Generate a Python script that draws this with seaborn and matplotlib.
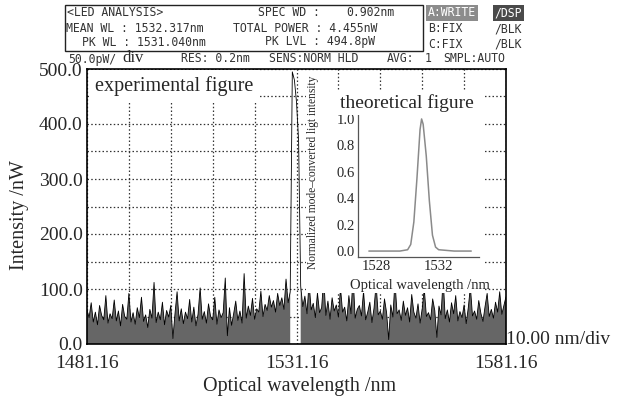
import numpy as np
import pandas as pd
import matplotlib
matplotlib.use("Agg")
import matplotlib.pyplot as plt
from matplotlib.patches import Rectangle
import seaborn as sns

# OSA trace: 201 samples, 0.5 nm apart, starting at 1481.16 nm
start_wl = 1481.16
step_wl = 0.5
intensity = [
    62, 48, 75, 40, 58, 35, 70, 52, 44, 88,
    38, 55, 46, 80, 42, 60, 33, 72, 50, 45,
    92, 40, 57, 36, 66, 48, 85, 41, 53, 30,
    63, 47, 112, 39, 58, 44, 76, 35, 61, 49,
    70, 10, 55, 95, 42, 64, 37, 58, 46, 81,
    40, 67, 33, 54, 102, 45, 59, 38, 73, 50,
    44, 85, 36, 62, 48, 57, 120, 15, 66, 34,
    55, 78, 43, 60, 38, 128, 47, 69, 52, 83,
    45, 64, 58, 96, 50, 72, 61, 88, 67, 79,
    58, 92, 70, 84, 63, 118, 75, 95, 494.8, 480,
    440, 370, 105, 68, 87, 55, 112, 62, 74, 48,
    93, 57, 66, 120, 52, 78, 45, 84, 60, 71,
    49, 102, 58, 67, 42, 88, 55, 125, 47, 63,
    70, 51, 96, 44, 58, 76, 39, 65, 109, 53,
    60, 45, 82, 57, 8, 71, 49, 115, 55, 62,
    43, 78, 52, 66, 40, 90, 58, 47, 73, 38,
    64, 100, 50, 57, 44, 82, 61, 12, 69, 53,
    119, 46, 62, 40, 75, 55, 88, 42, 59, 48,
    71, 37, 66, 104, 51, 60, 45, 79, 56, 41,
    68, 92, 50, 63, 47, 76, 58, 95, 54, 70, 86,
]
wavelength = np.round(start_wl + step_wl * np.arange(len(intensity)), 2)

# theoretical curve (inset)
theo_wl = [1527.5, 1528.5, 1529.5, 1530.0, 1530.2, 1530.4, 1530.6, 1530.8, 1530.9,
           1531.0, 1531.2, 1531.4, 1531.6, 1531.8, 1532.0, 1533.0, 1534.1]
theo_int = [0.0, 0.0, 0.0, 0.01, 0.05, 0.22, 0.55, 0.92, 1.0,
            0.96, 0.72, 0.38, 0.12, 0.03, 0.01, 0.0, 0.0]

x_labels = ["1481.16", "1531.16", "1581.16"]
y_labels = ["0.0", "100.0", "200.0", "300.0", "400.0", "500.0"]

df = pd.DataFrame({"wl": wavelength, "p": intensity})
theo = pd.DataFrame({"wl": theo_wl, "p": theo_int})

sns.set_style("white")
serif = ["Liberation Serif", "DejaVu Serif"]
mono = ["DejaVu Sans Mono"]
plt.rcParams["font.family"] = serif

W, H = 620, 400
fig = plt.figure(figsize=(6.2, 4.0), dpi=100)


def fx(x):
    return x / W


def fy(y):
    return 1 - y / H


# ---- main spectrum ----
ax = fig.add_axes([fx(87), fy(344), (506 - 87) / W, (344 - 69) / H])
ax.set_axisbelow(True)
noise = df["p"] < 200
ax.fill_between(df["wl"], df["p"], where=noise, color="#666666", lw=0, interpolate=False)
sns.lineplot(data=df, x="wl", y="p", ax=ax, color="black", lw=0.6)
ax.set_xlim(wavelength[0], wavelength[-1])
ax.set_ylim(0, 500)
xt = np.round(np.linspace(wavelength[0], wavelength[-1], 11), 2)
ax.set_xticks(xt, [x_labels[0]] + [""] * 4 + [x_labels[1]] + [""] * 4 + [x_labels[2]])
yt = np.arange(0, 501, 50)
ax.set_yticks(yt, [y_labels[i // 2] if i % 2 == 0 else "" for i in range(11)])
ax.grid(True, ls=(0, (1.2, 1.8)), color="#333333", lw=0.9)
ax.tick_params(length=0, labelsize=14)
ax.tick_params(axis="y", pad=3)
ax.tick_params(axis="x", pad=8)
ax.set_xlabel("")
ax.set_ylabel("")
for s in ax.spines.values():
    s.set_color("black")
    s.set_linewidth(1.2)

fig.text(fx(20), fy(215), "Intensity /nW", rotation=90, ha="center", va="center", fontsize=14.5)
fig.text(fx(300), fy(387), "Optical wavelength /nm", ha="center", va="center", fontsize=14.5)
fig.text(fx(506), fy(340), "10.00 nm/div", ha="left", va="center", fontsize=14)

fig.text(fx(95), fy(86), "experimental figure", ha="left", va="center", fontsize=14.5,
         bbox=dict(fc="white", ec="none", pad=4), zorder=3)

# ---- inset ----
fig.patches.append(Rectangle((fx(306), fy(293)), (484 - 306) / W, (293 - 90) / H,
                             transform=fig.transFigure, fc="white", ec="none", zorder=1))
fig.text(fx(340), fy(103), "theoretical figure", ha="left", va="center", fontsize=14,
         bbox=dict(fc="white", ec="none", pad=2), zorder=3)
ins = fig.add_axes([fx(358), fy(257), (479 - 358) / W, (257 - 113) / H])
ins.set_zorder(2)
sns.lineplot(data=theo, x="wl", y="p", ax=ins, color="#8a8a8a", lw=1.1)
ins.set_xlim(1526.8, 1534.6)
ins.set_ylim(-0.045, 1.045)
ins.set_xticks([1528, 1530, 1532, 1534], ["1528", "", "1532", ""])
ins.set_yticks([0, 0.2, 0.4, 0.6, 0.8, 1.0], ["0.0", "0.2", "0.4", "0.6", "0.8", "1.0"])
ins.tick_params(direction="in", length=3, width=0.8, color="#555555", labelsize=10.5, pad=2)
ins.set_xlabel("")
ins.set_ylabel("")
for k in ["top", "right"]:
    ins.spines[k].set_visible(False)
for k in ["left", "bottom"]:
    ins.spines[k].set_color("#555555")
    ins.spines[k].set_linewidth(0.9)
fig.text(fx(420), fy(285), "Optical wavelength /nm", ha="center", va="center", fontsize=10.5, zorder=3)
fig.text(fx(313), fy(172), "Normalized mode\u2013converted ligt intensity", rotation=90,
         ha="center", va="center", fontsize=8.3, zorder=3)

# ---- OSA header ----
fig.patches.append(Rectangle((fx(65), fy(51)), (423 - 65) / W, (51 - 5) / H,
                             transform=fig.transFigure, fc="none", ec="#222222", lw=1.0))
hdr = dict(family=mono, fontsize=8.3, color="#333333", va="center")
fig.text(fx(67), fy(13), "<LED ANALYSIS>", ha="left", **hdr)
fig.text(fx(258), fy(13), "SPEC WD :", ha="left", **hdr)
fig.text(fx(394), fy(13), "0.902nm", ha="right", **hdr)
fig.text(fx(66), fy(28), "MEAN WL : 1532.317nm", ha="left", **hdr)
fig.text(fx(233), fy(28), "TOTAL POWER : 4.455nW", ha="left", **hdr)
fig.text(fx(82), fy(42), "PK WL : 1531.040nm", ha="left", **hdr)
fig.text(fx(265), fy(42), "PK LVL : 494.8pW", ha="left", **hdr)

fig.text(fx(428), fy(13), "A:WRITE", ha="left", family=mono, fontsize=8.3, color="white",
         va="center", bbox=dict(fc="#8c8c8c", ec="none", pad=1.2))
fig.text(fx(522), fy(13), "/DSP", ha="right", family=mono, fontsize=8.3, color="white",
         va="center", bbox=dict(fc="#4a4a4a", ec="none", pad=1.2))
fig.text(fx(428), fy(29), "B:FIX", ha="left", **hdr)
fig.text(fx(522), fy(29), "/BLK", ha="right", **hdr)
fig.text(fx(428), fy(44), "C:FIX", ha="left", **hdr)
fig.text(fx(522), fy(44), "/BLK", ha="right", **hdr)

fig.text(fx(68), fy(59), "50.0pW/", ha="left", **hdr)
fig.text(fx(122), fy(58), "div", ha="left", va="center", fontsize=12)
fig.text(fx(181), fy(59), "RES: 0.2nm", ha="left", **hdr)
fig.text(fx(269), fy(59), "SENS:NORM HLD", ha="left", **hdr)
fig.text(fx(387), fy(59), "AVG:", ha="left", **hdr)
fig.text(fx(425), fy(59), "1", ha="left", **hdr)
fig.text(fx(443), fy(59), "SMPL:AUTO", ha="left", **hdr)

fig.savefig("out.png", dpi=100, facecolor="white")
